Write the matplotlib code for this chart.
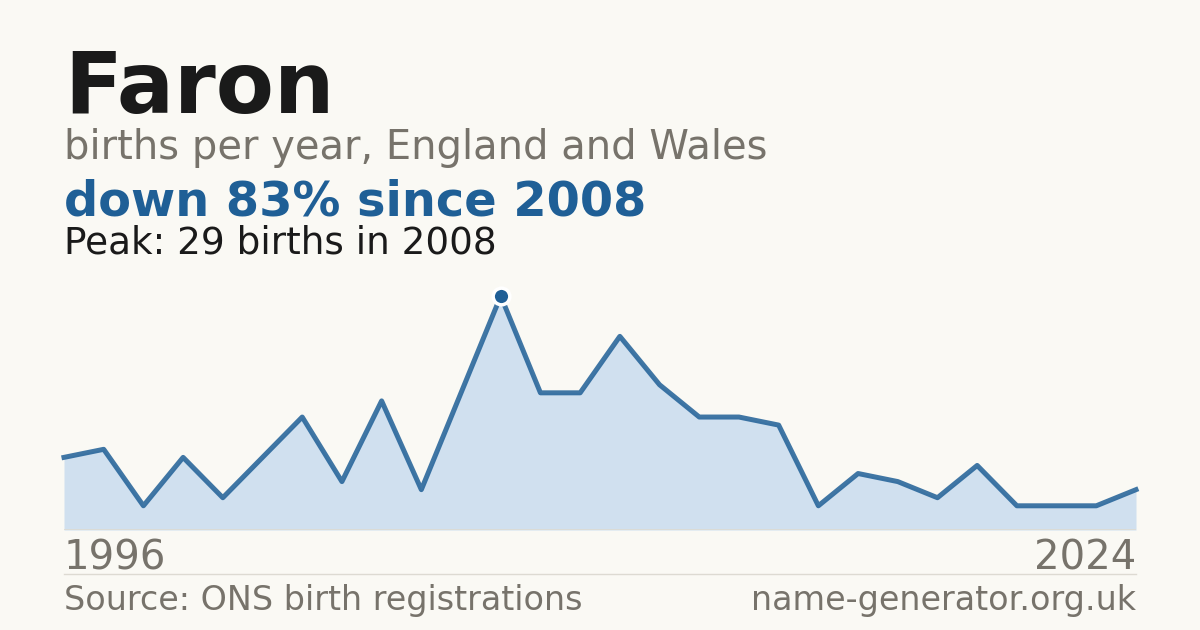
import numpy as np
import matplotlib
matplotlib.use("Agg")
import matplotlib.pyplot as plt
from matplotlib.lines import Line2D

# births per year (one point per registration year shown)
years = [1996, 1997, 1998, 1999, 2000, 2001, 2002, 2003, 2004, 2005, 2006,
         2008, 2009, 2010, 2011, 2012, 2013, 2014, 2015, 2016, 2017, 2018,
         2019, 2020, 2021, 2022, 2023, 2024]
births = [9, 10, 3, 9, 4, 9, 14, 6, 16, 5, 17,
          29, 17, 17, 24, 18, 14, 14, 13, 3, 7, 6,
          4, 8, 3, 3, 3, 5]

name = "Faron"
subtitle = "births per year, England and Wales"
headline = "down 83% since 2008"
peak_text = "Peak: 29 births in 2008"
source = "Source: ONS birth registrations"
site = "name-generator.org.uk"

BG = "#faf9f4"
BLUE = "#1f5f96"
FILL = "#d0e0ef"
GREY = "#77736b"
DARK = "#1a1a1a"

W, H = 1200, 630
fig = plt.figure(figsize=(W / 100, H / 100), dpi=100, facecolor=BG)


def fy(px):
    return 1 - px / H


def fx(px):
    return px / W


fig.text(fx(64), fy(113), name, fontsize=61, fontweight="bold", color=DARK, va="baseline")
fig.text(fx(64), fy(159), subtitle, fontsize=28.8, color=GREY, va="baseline")
fig.text(fx(64), fy(215), headline, fontsize=34.5, fontweight="bold", color=BLUE, va="baseline")
fig.text(fx(64), fy(253), peak_text, fontsize=26.9, color=DARK, va="baseline")

# chart area
ax = fig.add_axes([fx(64), fy(530), fx(1136) - fx(64), (530 - 296) / H])
ax.set_facecolor(BG)
x = np.arange(len(births))
ax.fill_between(x, births, 0, color=FILL, lw=0)
ax.plot(x, births, color=BLUE, lw=3.6, alpha=0.85, clip_on=False)
pk = int(np.argmax(births))
ax.plot(x[pk], births[pk], "o", ms=12, color=BLUE, mec="white", mew=2.5, clip_on=False, zorder=5)
ax.axhline(0, color="#dddad2", lw=1.2)
ax.set_xlim(0, len(births) - 1)
ax.set_ylim(0, max(births))
ax.axis("off")

fig.text(fx(64), fy(570), str(years[0]), fontsize=28.9, color=GREY, va="baseline")
fig.text(fx(1136), fy(570), str(years[-1]), fontsize=28.9, color=GREY, va="baseline", ha="right")
fig.add_artist(Line2D([fx(64), fx(1136)], [fy(574), fy(574)], color="#dddad2", lw=1))
fig.text(fx(64), fy(610), source, fontsize=24, color=GREY, va="baseline")
fig.text(fx(1136), fy(610), site, fontsize=24, color=GREY, va="baseline", ha="right")

fig.savefig("out.png", dpi=100, facecolor=BG)
